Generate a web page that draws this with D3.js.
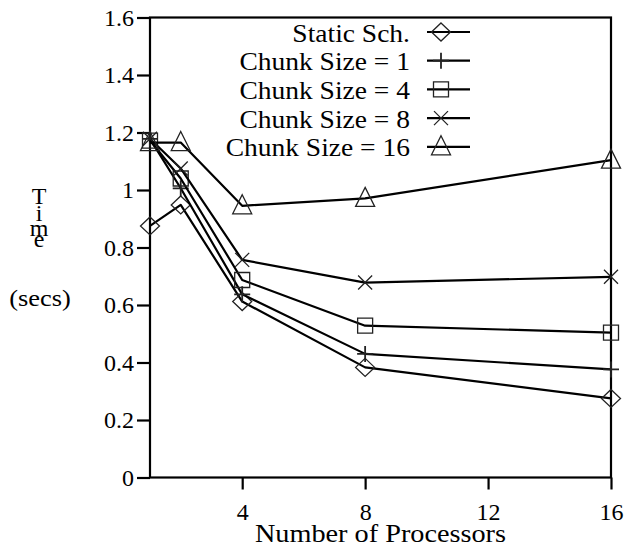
<!DOCTYPE html>
<html>
<head>
<meta charset="utf-8">
<script src="https://cdn.jsdelivr.net/npm/d3@7"></script>
<style>
  html, body { margin: 0; padding: 0; background: #fff; }
  svg { display: block; }
  svg text { font-family: "Liberation Serif", serif !important; fill: #000; }
</style>
</head>
<body>
<svg id="chart" width="636" height="550" font-family="Liberation Serif, serif"></svg>
<script>
// Processor counts on the x axis
const processors = [1, 2, 4, 8, 16];

// Execution time (secs) for each scheduling scheme
const staticSch = [0.875, 0.948, 0.612, 0.383, 0.275];
const chunk1    = [1.178, 1.006, 0.637, 0.430, 0.376];
const chunk4    = [1.172, 1.040, 0.687, 0.528, 0.504];
const chunk8    = [1.178, 1.075, 0.757, 0.678, 0.698];
const chunk16   = [1.165, 1.165, 0.945, 0.971, 1.104];

const seriesNames = ["Static Sch.", "Chunk Size = 1", "Chunk Size = 4", "Chunk Size = 8", "Chunk Size = 16"];
const seriesValues = [staticSch, chunk1, chunk4, chunk8, chunk16];
const seriesMarkers = ["diamond", "plus", "square", "cross", "triangle"];

const yTickValues = [0, 0.2, 0.4, 0.6, 0.8, 1, 1.2, 1.4, 1.6];
const yTickLabels = ["0", "0.2", "0.4", "0.6", "0.8", "1", "1.2", "1.4", "1.6"];
const xTickValues = [4, 8, 12, 16];
const xTickLabels = ["4", "8", "12", "16"];

const svg = d3.select("#chart");
const plotLeft = 150, plotRight = 611, plotTop = 17.5, plotBottom = 477.5;
const FONT = "Liberation Serif, serif";

const x = d3.scaleLinear().domain([1, 16]).range([plotLeft, plotRight]);
const y = d3.scaleLinear().domain([0, 1.6]).range([plotBottom, plotTop]);

// Stretch a word label a little so its width suits the typeface used in the plot
function widen(sel, k) {
  sel.each(function () {
    const w = this.getComputedTextLength();
    d3.select(this).attr("textLength", w * k).attr("lengthAdjust", "spacingAndGlyphs");
  });
}

// Axes
const yAxis = d3.axisLeft(y)
  .tickValues(yTickValues)
  .tickFormat((d, i) => yTickLabels[i])
  .tickSizeInner(13).tickSizeOuter(0).tickPadding(3);
const gy = svg.append("g").attr("transform", `translate(${plotLeft},0)`).call(yAxis);

const xAxis = d3.axisBottom(x)
  .tickValues(xTickValues)
  .tickFormat((d, i) => xTickLabels[i])
  .tickSizeInner(12).tickSizeOuter(0).tickPadding(13);
const gx = svg.append("g").attr("transform", `translate(0,${plotBottom})`).call(xAxis);

[gx, gy].forEach(g => {
  g.attr("font-family", FONT).attr("font-size", 24);
  g.select(".domain").remove();
  g.selectAll(".tick line").attr("stroke", "#000").attr("stroke-width", 2.2);
  g.selectAll(".tick text").attr("fill", "#000");
});

// Plot frame
svg.append("rect")
  .attr("x", plotLeft).attr("y", plotTop)
  .attr("width", plotRight - plotLeft).attr("height", plotBottom - plotTop)
  .attr("fill", "none").attr("stroke", "#000").attr("stroke-width", 2.2);

// Axis titles
svg.append("text")
  .attr("x", (plotLeft + plotRight) / 2).attr("y", 542)
  .attr("text-anchor", "middle").attr("font-size", 25).attr("font-family", FONT)
  .text("Number of Processors")
  .call(widen, 1.13);

// Vertical "Time" written as stacked letters in one text element
const yTitle = svg.append("text")
  .attr("font-size", 24).attr("font-family", FONT).attr("text-anchor", "middle");
[["T", 204], ["i", 221], ["m", 236], ["e", 247]].forEach(([ch, by]) => {
  yTitle.append("tspan").attr("x", 39).attr("y", by).text(ch);
});
svg.append("text")
  .attr("x", 40).attr("y", 306)
  .attr("font-size", 24).attr("font-family", FONT).attr("text-anchor", "middle")
  .text("(secs)").call(widen, 1.1);

// Marker shapes
function drawMarker(g, type, cx, cy) {
  const m = g.append("path")
    .attr("fill", "none").attr("stroke", "#222").attr("stroke-width", 1.3);
  const p = d3.path();
  if (type === "diamond") {
    p.moveTo(cx, cy - 9); p.lineTo(cx + 9.5, cy); p.lineTo(cx, cy + 9); p.lineTo(cx - 9.5, cy); p.closePath();
  } else if (type === "plus") {
    p.moveTo(cx - 8, cy); p.lineTo(cx + 8, cy); p.moveTo(cx, cy - 8); p.lineTo(cx, cy + 8);
    m.attr("stroke-width", 1.8);
  } else if (type === "square") {
    p.rect(cx - 7.5, cy - 7.5, 15, 15);
  } else if (type === "cross") {
    p.moveTo(cx - 7, cy - 7); p.lineTo(cx + 7, cy + 7); p.moveTo(cx - 7, cy + 7); p.lineTo(cx + 7, cy - 7);
  } else if (type === "triangle") {
    p.moveTo(cx, cy - 11); p.lineTo(cx + 9.5, cy + 8); p.lineTo(cx - 9.5, cy + 8); p.closePath();
  }
  m.attr("d", p.toString());
}

// Series lines and points
const line = d3.line().x(d => x(d[0])).y(d => y(d[1]));
seriesValues.forEach((vals, si) => {
  const pts = processors.map((p, i) => [p, vals[i]]);
  const g = svg.append("g");
  g.append("path").datum(pts)
    .attr("d", line).attr("fill", "none")
    .attr("stroke", "#000").attr("stroke-width", 2.2).attr("stroke-linejoin", "round");
  pts.forEach(d => drawMarker(g, seriesMarkers[si], x(d[0]), y(d[1])));
});

// Legend
const legend = svg.append("g");
seriesNames.forEach((name, i) => {
  const cy = 32 + i * 28.7;
  legend.append("text")
    .attr("x", 410).attr("y", cy + 9.5)
    .attr("text-anchor", "end").attr("font-size", 25).attr("font-family", FONT)
    .text(name)
    .call(widen, 1.1);
  legend.append("line")
    .attr("x1", 427).attr("x2", 470).attr("y1", cy).attr("y2", cy)
    .attr("stroke", "#000").attr("stroke-width", 2.2);
  drawMarker(legend, seriesMarkers[i], 441, cy);
});
</script>
</body>
</html>
